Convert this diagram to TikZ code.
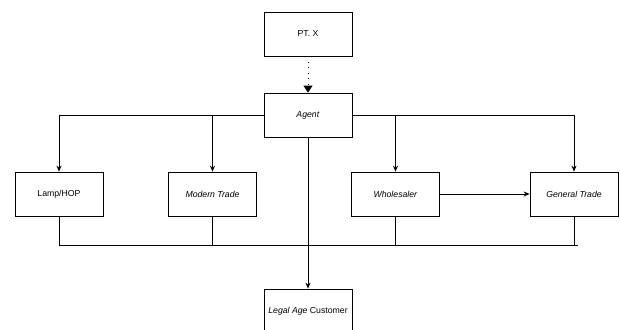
\documentclass[tikz,border=0pt]{standalone}
\usepackage{fontspec}
\setmainfont{Liberation Sans}
\usetikzlibrary{arrows.meta}

\begin{document}
\begin{tikzpicture}[x=1pt,y=-1pt,
    box/.style={draw, line width=0.7pt, minimum width=88pt, minimum height=44pt, inner sep=0pt, font=\fontsize{8.7}{10}\selectfont},
    conn/.style={line width=0.7pt, -{Stealth[length=6pt,width=5pt]}},
    bus/.style={line width=0.7pt}]

\useasboundingbox (0,0) rectangle (620,329);
\clip (0,0) rectangle (620,329);

% Top of the chain
\node[box] (ptx) at (308,34) {PT. X};
\node[box] (agent) at (308,115) {\textit{Agent}};
\draw[line width=0.9pt, dash pattern=on 0.9pt off 4.6pt, -{Triangle[length=7pt,width=9pt]}] (ptx) -- (agent);

% Channels
\node[box] (lamp) at (59,194) {Lamp/HOP};
\node[box] (modern) at (212.5,194) {\textit{Modern Trade}};
\node[box] (whole) at (395.5,194) {\textit{Wholesaler}};
\node[box] (general) at (574,194) {\textit{General Trade}};

\draw[conn] (agent.west) -| (lamp.north);
\draw[conn] (agent.west) -| (modern.north);
\draw[conn] (agent.east) -| (whole.north);
\draw[conn] (agent.east) -| (general.north);
\draw[conn] (whole) -- (general);

% Collecting line
\coordinate (busL) at (59,245);
\coordinate (busR) at (578,245);
\draw[bus] (busL) -- (busR);
\foreach \n in {lamp, modern, whole, general}
    \draw[bus] (\n.south) -- (\n.south |- busL);

% End customer
\node[box] (customer) at (308,311) {\textit{Legal Age} Customer};
\draw[conn] (agent.south) -- (customer.north);

\end{tikzpicture}
\end{document}
